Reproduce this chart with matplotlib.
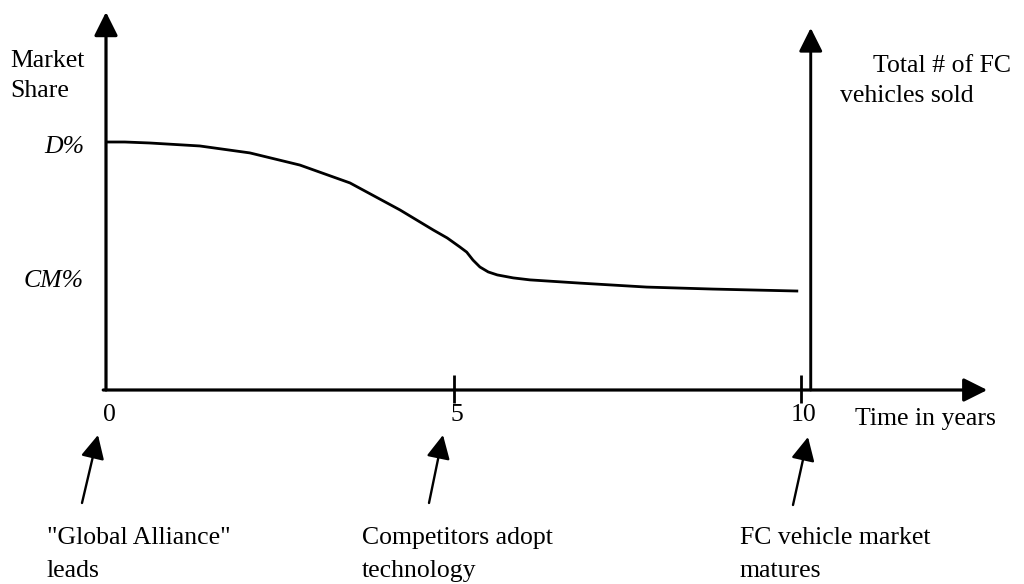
import matplotlib
matplotlib.use("Agg")
import matplotlib.pyplot as plt

# Market share curve (years, % of D)
years = [0, 0.27, 0.63, 1.35, 2.07, 2.79, 3.51, 4.23, 4.71, 4.91, 5.09, 5.19,
         5.28, 5.38, 5.50, 5.63, 5.86, 6.10, 6.82, 7.78, 8.73, 9.96]
share = [100, 100, 99.6, 98.4, 95.6, 90.7, 83.5, 72.6, 64.5, 61.3, 57.7, 55.6,
         52.4, 49.6, 47.6, 46.4, 45.2, 44.4, 43.1, 41.5, 40.7, 39.9]

tick_years = [5, 10]
tick_labels = ["5", "10"]
share_levels = [100, 40]
share_labels = ["D%", "CM%"]

events = [0, 5, 10]
event_lines = [['"Global Alliance"', "leads"],
               ["Competitors adopt", "technology"],
               ["FC vehicle market", "matures"]]

W, H = 1024, 584
FS = 18.5
plt.rcParams["font.family"] = ["Liberation Serif", "DejaVu Serif"]

fig = plt.figure(figsize=(W / 100, H / 100), dpi=100)
ax = fig.add_axes([0, 0, 1, 1])
ax.axis("off")
# 69.5 px per year, 2.48 px per share unit, origin at pixel (106, 390)
ax.set_xlim(-106 / 69.5, (W - 106) / 69.5)
ax.set_ylim(-(H - 390) / 2.48, 390 / 2.48)


def fpx(x, y):
    # top-left pixel coords -> figure fraction
    return x / W, 1 - y / H


arrow_kw = dict(arrowstyle="-|>", mutation_scale=36, color="black",
                shrinkA=0, shrinkB=0)

# axes drawn as arrows
ax.annotate("", xy=(0, 152.4), xytext=(0, 0),
            arrowprops=dict(lw=2.3, **arrow_kw))
ax.annotate("", xy=(12.68, 0), xytext=(-0.04, 0),
            arrowprops=dict(lw=2.3, **arrow_kw))
ax.annotate("", xy=(10.14, 146), xytext=(10.14, 0),
            arrowprops=dict(lw=2.1, **arrow_kw))

# ticks on the time axis
for t in tick_years:
    ax.plot([t, t], [-5.2, 6.0], color="black", lw=2.0, solid_capstyle="butt")

ax.plot(years, share, color="black", lw=2.0, solid_joinstyle="round",
        solid_capstyle="butt")

# axis labels
for txt, y in [("Market", 67), ("Share", 97)]:
    fig.text(*fpx(10, y), txt, fontsize=FS, va="baseline", ha="left")
for txt, x, y in [("Total # of FC", 873, 72), ("vehicles sold", 840, 102)]:
    fig.text(*fpx(x, y), txt, fontsize=FS, va="baseline", ha="left")
fig.text(*fpx(855, 425), "Time in years", fontsize=FS, va="baseline", ha="left")

# share level labels (italic)
for lab, y in zip(share_labels, [153, 287]):
    fig.text(*fpx(84, y), lab, fontsize=FS, style="italic",
             va="baseline", ha="right")

# time tick labels
for lab, t in zip(["0"] + tick_labels, [0] + tick_years):
    ax.annotate(lab, xy=(t, 0), xytext=(3, -31), textcoords="offset pixels",
                fontsize=FS, ha="center", va="baseline")

# event arrows and captions
ev_tails = [(82, 503), (429, 503), (793, 505)]
ev_tips = [(98, 435), (443, 435), (808, 437)]
ev_text_x = [47, 362, 740]
for lines, tail, tip, tx in zip(event_lines, ev_tails, ev_tips, ev_text_x):
    ax.annotate("", xy=(tip[0], H - tip[1]), xycoords="figure pixels",
                xytext=(tail[0], H - tail[1]), textcoords="figure pixels",
                arrowprops=dict(lw=1.7, **arrow_kw))
    for line, y in zip(lines, [544, 577]):
        fig.text(*fpx(tx, y), line, fontsize=FS, va="baseline", ha="left")

plt.savefig("out.png", dpi=100)
plt.close()
